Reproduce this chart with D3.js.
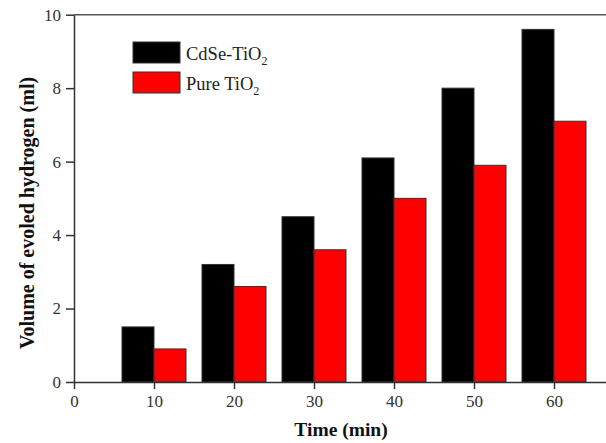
<!DOCTYPE html>
<html><head><meta charset="utf-8">
<script src="https://cdn.jsdelivr.net/npm/d3@7"></script>
<style>body{margin:0;background:#fff}svg{display:block}</style>
</head><body><svg id="c" width="606" height="443"></svg>
<script>
const times = [10, 20, 30, 40, 50, 60];
const cdse = [1.5, 3.2, 4.5, 6.1, 8.0, 9.6];
const pure = [0.9, 2.6, 3.6, 5.0, 5.9, 7.1];
const seriesNames = ["CdSe-TiO", "Pure TiO"];
const xTicks = [0, 10, 20, 30, 40, 50, 60];
const yTicks = [0, 2, 4, 6, 8, 10];
const colors = ["#000000", "#ff0000"];

const svg = d3.select("#c");
const x = d3.scaleLinear().domain([0, 70]).range([74, 634]);
const y = d3.scaleLinear().domain([0, 10]).range([382, 14.7]);
const font = "'Liberation Serif','Times New Roman',serif";
const barW = 4;

// bars
[cdse, pure].forEach((vals, si) => {
  svg.append("g").selectAll("rect").data(vals).join("rect")
    .attr("x", (d, i) => si === 0 ? x(times[i] - barW) : x(times[i]))
    .attr("y", d => y(d))
    .attr("width", x(barW) - x(0))
    .attr("height", d => y(0) - y(d))
    .attr("fill", colors[si])
    .attr("stroke", "#333").attr("stroke-width", 1);
});

// top frame
svg.append("line").attr("x1", x(0)).attr("x2", x(70)).attr("y1", y(10)).attr("y2", y(10))
  .attr("stroke", "#555").attr("stroke-width", 1.5);

// axes
const xa = svg.append("g").attr("transform", `translate(0,${y(0)})`)
  .call(d3.axisBottom(x).tickValues(xTicks).tickSize(7).tickPadding(6).tickSizeOuter(0));
const ya = svg.append("g").attr("transform", `translate(${x(0)},0)`)
  .call(d3.axisLeft(y).tickValues(yTicks).tickSize(8).tickPadding(5).tickSizeOuter(0));
[xa, ya].forEach(a => {
  a.select(".domain").attr("stroke", "#333").attr("stroke-width", 1.5);
  a.selectAll(".tick line").attr("stroke", "#333").attr("stroke-width", 1.5);
  a.selectAll(".tick text").attr("font-family", font).attr("font-size", 17).attr("fill", "#333");
});

// axis titles
svg.append("text").attr("x", 341).attr("y", 436).attr("text-anchor", "middle")
  .attr("font-family", font).attr("font-weight", "bold").attr("font-size", 19.5).attr("fill", "#111")
  .text("Time (min)");
svg.append("text").attr("transform", "translate(34,213) rotate(-90)").attr("text-anchor", "middle")
  .attr("font-family", font).attr("font-weight", "bold").attr("font-size", 20).attr("fill", "#111")
  .text("Volume of evoled hydrogen (ml)");

// legend
const lg = svg.append("g");
seriesNames.forEach((n, i) => {
  const yy = 42 + i * 30;
  lg.append("rect").attr("x", 133).attr("y", yy).attr("width", 47).attr("height", 21)
    .attr("fill", colors[i]).attr("stroke", "#333");
  const t = lg.append("text").attr("x", 186).attr("y", yy + 18)
    .attr("font-family", font).attr("font-size", 18.5).attr("fill", "#222");
  t.append("tspan").text(n);
  t.append("tspan").attr("font-size", 12).attr("dy", 5).text("2");
});
</script></body></html>
